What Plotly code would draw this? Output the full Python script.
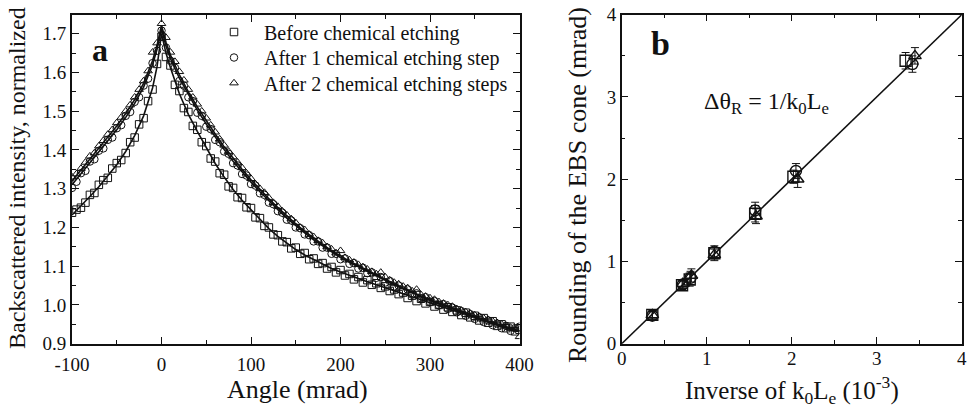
import plotly.graph_objects as go

# ---------------- Panel a data ----------------
angle_pts = list(range(-100, 401, 5))

before_pts = [
    1.238, 1.246, 1.251, 1.264, 1.284, 1.289, 1.310, 1.322, 1.328, 1.352,
    1.366, 1.374, 1.392, 1.420, 1.432, 1.466, 1.482, 1.526, 1.556, 1.622,
    1.692, 1.640, 1.618, 1.568, 1.552, 1.508, 1.498, 1.462, 1.452, 1.420,
    1.410, 1.378, 1.370, 1.340, 1.336, 1.306, 1.302, 1.278, 1.276, 1.252,
    1.250, 1.226, 1.224, 1.204, 1.200, 1.182, 1.180, 1.164, 1.162, 1.146,
    1.148, 1.132, 1.134, 1.118, 1.120, 1.106, 1.108, 1.094, 1.098, 1.084,
    1.090, 1.076, 1.080, 1.066, 1.072, 1.058, 1.064, 1.052, 1.056, 1.044,
    1.048, 1.036, 1.040, 1.028, 1.032, 1.018, 1.024, 1.010, 1.016, 1.004,
    1.008, 0.996, 1.000, 0.988, 0.994, 0.982, 0.986, 0.974, 0.980, 0.968,
    0.972, 0.960, 0.966, 0.954, 0.958, 0.946, 0.950, 0.940, 0.944, 0.932,
    0.936]

after1_pts = [
    1.302, 1.318, 1.340, 1.346, 1.370, 1.376, 1.398, 1.404, 1.426, 1.432,
    1.456, 1.464, 1.488, 1.498, 1.524, 1.536, 1.566, 1.584, 1.624, 1.656,
    1.708, 1.664, 1.630, 1.612, 1.578, 1.566, 1.536, 1.526, 1.496, 1.488,
    1.460, 1.454, 1.426, 1.420, 1.396, 1.390, 1.366, 1.360, 1.338, 1.334,
    1.312, 1.308, 1.288, 1.284, 1.264, 1.260, 1.242, 1.238, 1.220, 1.218,
    1.200, 1.198, 1.182, 1.180, 1.164, 1.164, 1.148, 1.148, 1.132, 1.132,
    1.118, 1.120, 1.106, 1.108, 1.094, 1.096, 1.082, 1.084, 1.070, 1.072,
    1.058, 1.062, 1.048, 1.050, 1.038, 1.040, 1.027, 1.030, 1.017, 1.020,
    1.008, 1.010, 0.999, 1.002, 0.990, 0.993, 0.981, 0.984, 0.972, 0.976,
    0.964, 0.968, 0.956, 0.960, 0.948, 0.952, 0.940, 0.946, 0.933, 0.940,
    0.944]

after2_pts = [
    1.330, 1.338, 1.352, 1.368, 1.384, 1.392, 1.410, 1.424, 1.440, 1.452,
    1.470, 1.484, 1.500, 1.516, 1.536, 1.556, 1.578, 1.604, 1.652, 1.676,
    1.726, 1.690, 1.652, 1.628, 1.602, 1.580, 1.556, 1.536, 1.518, 1.500,
    1.482, 1.464, 1.446, 1.428, 1.412, 1.396, 1.382, 1.368, 1.354, 1.340,
    1.326, 1.312, 1.300, 1.290, 1.276, 1.264, 1.254, 1.242, 1.232, 1.222,
    1.212, 1.200, 1.194, 1.182, 1.176, 1.166, 1.160, 1.150, 1.144, 1.134,
    1.140, 1.122, 1.116, 1.110, 1.104, 1.098, 1.092, 1.086, 1.080, 1.084,
    1.072, 1.064, 1.058, 1.054, 1.048, 1.044, 1.036, 1.040, 1.026, 1.022,
    1.018, 1.014, 1.008, 1.004, 1.000, 0.996, 0.990, 0.986, 0.982, 0.978,
    0.974, 0.970, 0.966, 0.962, 0.958, 0.954, 0.950, 0.946, 0.942, 0.938,
    0.918]

angle_fit = [-100, -90, -80, -70, -60, -50, -40, -30, -20, -10, -5, 0, 5,
             10, 20, 30, 40, 50, 60, 70, 80, 90, 100,
             110, 120, 130, 140, 150, 160, 170, 180, 190, 200,
             210, 220, 230, 240, 250, 260, 270, 280, 290, 300,
             310, 320, 330, 340, 350, 360, 370, 380, 390, 400]

before_fit = [1.232, 1.255, 1.280, 1.305, 1.332, 1.362, 1.396, 1.437, 1.488, 1.560, 1.615, 1.700, 1.650,
              1.612, 1.545, 1.492, 1.448, 1.406, 1.365, 1.330, 1.298, 1.270, 1.245,
              1.220, 1.197, 1.177, 1.159, 1.143, 1.129, 1.117, 1.105, 1.094, 1.085,
              1.076, 1.068, 1.060, 1.052, 1.044, 1.036, 1.028, 1.020, 1.012, 1.005,
              0.997, 0.990, 0.983, 0.976, 0.969, 0.962, 0.955, 0.947, 0.940, 0.933]

after1_fit = [1.310, 1.338, 1.366, 1.394, 1.422, 1.452, 1.484, 1.520, 1.562, 1.620, 1.660, 1.712, 1.668,
              1.636, 1.585, 1.542, 1.503, 1.467, 1.433, 1.401, 1.371, 1.343, 1.317,
              1.292, 1.268, 1.246, 1.224, 1.204, 1.186, 1.168, 1.152, 1.136, 1.122,
              1.110, 1.098, 1.086, 1.074, 1.063, 1.052, 1.042, 1.031, 1.021, 1.012,
              1.003, 0.994, 0.985, 0.976, 0.968, 0.960, 0.952, 0.944, 0.937, 0.931]

after2_fit = [1.320, 1.348, 1.376, 1.404, 1.432, 1.462, 1.494, 1.530, 1.572, 1.630, 1.670, 1.722, 1.678,
              1.645, 1.594, 1.550, 1.511, 1.475, 1.441, 1.408, 1.378, 1.350, 1.323,
              1.298, 1.274, 1.251, 1.229, 1.209, 1.190, 1.172, 1.156, 1.140, 1.126,
              1.113, 1.101, 1.089, 1.077, 1.066, 1.055, 1.044, 1.033, 1.023, 1.014,
              1.005, 0.996, 0.987, 0.978, 0.970, 0.962, 0.954, 0.946, 0.939, 0.932]

series_names = ["Before chemical etching", "After 1 chemical etching step",
                "After 2 chemical etching steps"]

angle_ticks = [-100, 0, 100, 200, 300, 400]
angle_ticktext = ["-100", "0", "100", "200", "300", "400"]

# ---------------- Panel b data ----------------
inv_sq = [0.36, 0.71, 0.80, 1.09, 1.57, 2.02, 3.34]
rnd_sq = [0.35, 0.71, 0.78, 1.10, 1.58, 2.03, 3.44]
err_sq = [0.05, 0.05, 0.08, 0.07, 0.10, 0.08, 0.10]
inv_ci = [0.36, 0.72, 0.81, 1.09, 1.57, 2.05, 3.42]
rnd_ci = [0.34, 0.72, 0.80, 1.12, 1.62, 2.10, 3.40]
err_ci = [0.05, 0.05, 0.08, 0.07, 0.10, 0.09, 0.10]
inv_tr = [0.36, 0.72, 0.82, 1.09, 1.58, 2.07, 3.45]
rnd_tr = [0.35, 0.73, 0.83, 1.08, 1.55, 2.00, 3.50]
err_tr = [0.05, 0.05, 0.08, 0.07, 0.09, 0.10, 0.10]
theory_x = [0, 4]
theory_y = [0, 4]

FONT = "Liberation Serif"
BLACK = "#111111"
NBSP = "\u00a0"

fig = go.Figure()

symbols = ["square-open", "circle-open", "triangle-up-open"]
pts = [before_pts, after1_pts, after2_pts]
fits = [before_fit, after1_fit, after2_fit]
legend_ids = ["legend", "legend2", "legend3"]

for name, sym, p, lg in zip(series_names, symbols, pts, legend_ids):
    fig.add_trace(go.Scatter(
        x=angle_pts, y=p, mode="markers", name=NBSP * 2 + name, legend=lg,
        marker=dict(symbol=sym, size=7.5, color=BLACK, line=dict(width=1, color=BLACK)),
        xaxis="x", yaxis="y"))
for f in fits:
    fig.add_trace(go.Scatter(
        x=angle_fit, y=f, mode="lines", showlegend=False,
        line=dict(color=BLACK, width=1.6), xaxis="x", yaxis="y"))

fig.add_trace(go.Scatter(
    x=theory_x, y=theory_y, mode="lines", showlegend=False,
    line=dict(color=BLACK, width=1.6), xaxis="x2", yaxis="y2"))

for xs, ys, es, sym in [(inv_sq, rnd_sq, err_sq, "square-open"),
                         (inv_ci, rnd_ci, err_ci, "circle-open"),
                         (inv_tr, rnd_tr, err_tr, "triangle-up-open")]:
    fig.add_trace(go.Scatter(
        x=xs, y=ys, mode="markers", showlegend=False,
        marker=dict(symbol=sym, size=11, color=BLACK, line=dict(width=1.4, color=BLACK)),
        error_y=dict(type="data", array=es, visible=True, color=BLACK, thickness=1, width=4),
        xaxis="x2", yaxis="y2"))

W, H = 968, 411
def px_x(p):
    return p / W
def px_y(p):
    return 1 - p / H

axis_common = dict(
    showline=True, linecolor=BLACK, mirror="ticks",
    ticks="inside", ticklen=7, tickwidth=1.3, tickcolor=BLACK,
    showgrid=False, zeroline=False, automargin=False,
    tickfont=dict(family=FONT, size=19, color=BLACK),
)

def legend_box(ycenter):
    return dict(x=px_x(214), y=px_y(ycenter), xanchor="left", yanchor="middle",
                font=dict(family=FONT, size=20, color=BLACK),
                bgcolor="rgba(0,0,0,0)", itemwidth=30)

fig.update_layout(
    width=W, height=H,
    margin=dict(l=0, r=0, t=0, b=0),
    paper_bgcolor="white", plot_bgcolor="white",
    showlegend=True,
    legend=legend_box(32),
    legend2=legend_box(57.5),
    legend3=legend_box(83),
    xaxis=dict(domain=[px_x(72), px_x(519.5)], range=[-100, 400],
               tickvals=angle_ticks, ticktext=angle_ticktext, linewidth=2,
               ticklabelstandoff=2,
               minor=dict(dtick=50, ticks="inside", ticklen=4, tickcolor=BLACK, tickwidth=1.2),
               anchor="y", **axis_common),
    yaxis=dict(domain=[px_y(343.7), px_y(14.7)], range=[0.9, 1.749], dtick=0.1,
               tickformat=".1f", linewidth=2,
               minor=dict(dtick=0.05, ticks="inside", ticklen=4, tickcolor=BLACK, tickwidth=1.2),
               anchor="x", **axis_common),
    xaxis2=dict(domain=[px_x(621.7), px_x(961.7)], range=[0, 4], dtick=1, linewidth=1.5,
                ticklabelstandoff=-3,
                minor=dict(dtick=0.5, ticks="inside", ticklen=4, tickcolor=BLACK, tickwidth=1.2),
                anchor="y2", **axis_common),
    yaxis2=dict(domain=[px_y(343.7), px_y(14.7)], range=[0, 4], dtick=1, linewidth=1.5,
                minor=dict(dtick=0.5, ticks="inside", ticklen=4, tickcolor=BLACK, tickwidth=1.2),
                anchor="x2", **axis_common),
)

ann = []
def add_text(text, x, y, size, angle=0, bold=False):
    ann.append(dict(text=("<b>%s</b>" % text) if bold else text,
                    x=px_x(x), y=px_y(y), xref="paper", yref="paper",
                    showarrow=False, textangle=angle,
                    font=dict(family=FONT, size=size, color=BLACK),
                    xanchor="center", yanchor="middle"))

add_text("Angle (mrad)", 297, 389, 26)
add_text("Backscattered intensity, normalized", 17, 178, 24, angle=-90)
add_text("a", 100, 50, 32, bold=True)
add_text("Inverse of k<sub>0</sub>L<sub>e</sub> (10<sup>-3</sup>)", 792, 390, 25)
add_text("Rounding of the EBS cone (mrad)", 577, 185, 26, angle=-90)
add_text("b", 660, 44, 34, bold=True)
add_text("Δθ<sub>R</sub> = 1/k<sub>0</sub>L<sub>e</sub>", 766, 103, 24)
fig.update_layout(annotations=ann)

fig.write_html("out.html")
